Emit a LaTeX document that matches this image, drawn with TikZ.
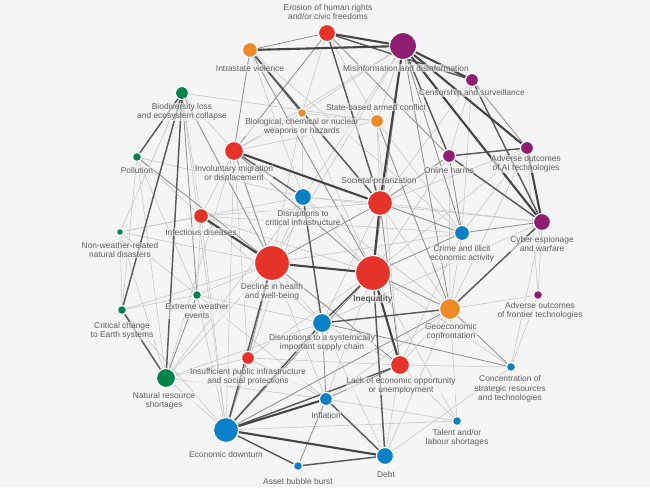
\documentclass[tikz,border=0pt]{standalone}
\usepackage{fontspec}
\setmainfont{Liberation Sans}
\definecolor{bgc}{HTML}{F5F5F5}
\definecolor{cred}{HTML}{E5332A}
\definecolor{corange}{HTML}{EE8A26}
\definecolor{cpurple}{HTML}{8F1D72}
\definecolor{cblue}{HTML}{0B7FC7}
\definecolor{cgreen}{HTML}{00844A}
\definecolor{txt}{HTML}{5E5E5E}
\definecolor{ela}{HTML}{C6C6C6}
\definecolor{elb}{HTML}{929292}
\definecolor{elc}{HTML}{5A5A5A}
\definecolor{eld}{HTML}{454545}
\pgfdeclarelayer{back}
\pgfdeclarelayer{edges}
\pgfsetlayers{back,edges,main}
\tikzset{
  rk/.style={circle, draw=white, line width=1.1pt, inner sep=0pt, minimum size=#1},
  lab/.style={font=\fontsize{8.4}{9.2}\selectfont, text=txt, align=center, inner sep=0.5pt,
              fill=bgc, fill opacity=0.6, text opacity=1},
  ea/.style={draw=ela, line width=0.55pt},
  eb/.style={draw=elb, line width=0.85pt},
  ec/.style={draw=elc, line width=1.45pt},
  ed/.style={draw=eld, line width=2.1pt}
}
\begin{document}
\begin{tikzpicture}[x=1pt,y=-1pt]
\begin{pgfonlayer}{back}
\fill[bgc] (0,0) rectangle (650,487);
\end{pgfonlayer}
\useasboundingbox (0,0) rectangle (650,487);
% nodes
\node[rk=17, fill=cred] (hr) at (327,33) {};
\node[rk=27, fill=cpurple] (mis) at (403,46) {};
\node[rk=15, fill=corange] (intra) at (250,50) {};
\node[rk=13, fill=cpurple] (cens) at (472,80) {};
\node[rk=13, fill=cgreen] (bio) at (182,93) {};
\node[rk=9, fill=corange] (bcn) at (302,113) {};
\node[rk=13, fill=corange] (sba) at (377,121) {};
\node[rk=19, fill=cred] (mig) at (234,151) {};
\node[rk=9, fill=cgreen] (pol) at (137,157) {};
\node[rk=13, fill=cpurple] (onl) at (449,156) {};
\node[rk=13, fill=cpurple] (ai) at (527,148) {};
\node[rk=25, fill=cred] (soc) at (380,203) {};
\node[rk=17, fill=cblue] (dci) at (303,197) {};
\node[rk=15, fill=cred] (inf) at (201,216) {};
\node[rk=7, fill=cgreen] (nwn) at (120,232) {};
\node[rk=17, fill=cpurple] (cyb) at (542,222) {};
\node[rk=15, fill=cblue] (crm) at (462,233) {};
\node[rk=35, fill=cred] (hea) at (272,263) {};
\node[rk=35, fill=cred] (ineq) at (373,273) {};
\node[rk=9, fill=cgreen] (ext) at (197,295) {};
\node[rk=9, fill=cpurple] (fro) at (538,295) {};
\node[rk=9, fill=cgreen] (ces) at (122,310) {};
\node[rk=21, fill=corange] (geo) at (450,309) {};
\node[rk=19, fill=cblue] (sup) at (322,323) {};
\node[rk=13, fill=cred] (ipi) at (248,358) {};
\node[rk=19, fill=cred] (leo) at (400,365) {};
\node[rk=9, fill=cblue] (con) at (511,367) {};
\node[rk=19, fill=cgreen] (nrs) at (166,378) {};
\node[rk=13, fill=cblue] (infl) at (326,399) {};
\node[rk=9, fill=cblue] (tal) at (457,421) {};
\node[rk=25, fill=cblue] (ecd) at (226,430) {};
\node[rk=17, fill=cblue] (debt) at (385,456) {};
\node[rk=9, fill=cblue] (abb) at (298,466) {};
% edges
\begin{pgfonlayer}{edges}
\foreach \a/\b in {hr/bcn, hr/sba, mis/sba, mis/bcn, mis/mig, mis/dci, mis/hea, cens/onl, cens/crm, cens/soc, intra/dci, intra/crm, bio/sba, bio/inf, bio/nwn, bio/mig, bio/ecd, pol/nrs, pol/ces, pol/ext, pol/inf, pol/dci, bcn/sba, bcn/soc, bcn/ineq, bcn/hea, bcn/mig, bcn/dci, sba/mig, sba/crm, sba/leo, sba/soc, mig/inf, mig/ipi, mig/nrs, mig/ecd, mig/crm, onl/ineq, onl/geo, ai/soc, ai/ineq, ai/fro, ai/crm, ai/geo, soc/geo, soc/dci, soc/cyb, soc/sup, soc/inf, dci/hea, dci/ineq, dci/ecd, dci/cyb, dci/geo, dci/nrs, inf/ecd, inf/ineq, inf/ext, inf/sup, inf/crm, inf/nwn, nwn/ext, nwn/ces, nwn/nrs, nwn/hea, nwn/dci, cyb/fro, cyb/con, cyb/sup, crm/hea, crm/geo, crm/leo, hea/nrs, hea/sup, hea/ext, hea/ces, hea/infl, ineq/ipi, ineq/infl, ineq/con, ineq/tal, ext/ces, ext/ecd, ext/infl, ext/sup, fro/geo, fro/con, ces/ecd, geo/leo, geo/debt, geo/infl, geo/tal, sup/leo, sup/nrs, sup/debt, ipi/nrs, ipi/leo, ipi/infl, leo/debt, leo/tal, nrs/ecd, nrs/infl, infl/tal, ecd/tal, con/leo, con/debt}
  \draw[ea] (\a) -- (\b);
\foreach \a/\b in {hr/intra, hr/mig, mis/crm, mis/ineq, mis/geo, cens/ai, intra/mig, intra/ineq, bio/ext, bio/hea, pol/hea, sba/geo, mig/hea, mig/ineq, onl/crm, onl/soc, soc/hea, soc/crm, soc/leo, cyb/crm, crm/ineq, hea/ipi, hea/leo, ineq/geo, ineq/ecd, ext/nrs, geo/con, geo/ecd, sup/infl, sup/con, ipi/ecd, leo/infl, infl/abb, hr/onl}
  \draw[eb] (\a) -- (\b);
\foreach \a/\b in {hr/soc, hr/cens, mis/onl, intra/bcn, intra/soc, bio/pol, bio/ces, bio/nrs, mig/dci, dci/sup, onl/ai, onl/cyb, ineq/debt, cyb/geo, geo/sup, ces/nrs, sup/ecd, leo/ecd, infl/debt, ecd/abb, debt/abb, cens/cyb, sup/ineq, hea/ecd}
  \draw[ec] (\a) -- (\b);
\foreach \a/\b in {hr/mis, mis/intra, mis/soc, mis/cens, mis/ai, mis/cyb, soc/ineq, hea/ineq, ineq/leo, ecd/debt, infl/ecd, mig/soc, inf/hea, ai/cyb}
  \draw[ed] (\a) -- (\b);
\end{pgfonlayer}
% labels
\node[lab] (lhr) at (328,12) {Erosion of human rights\\and/or civic freedoms};
\node[lab] (lmis) at (406,68) {Misinformation and disinformation};
\node[lab] (lintra) at (250,68) {Intrastate violence};
\node[lab] (lcens) at (472,93) {Censorship and surveillance};
\node[lab] (lbio) at (182,112) {Biodiversity loss\\and ecosystem collapse};
\node[lab] (lbcn) at (302,127) {Biological, chemical or nuclear\\weapons or hazards};
\node[lab] (lsba) at (376,107) {State-based armed conflict};
\node[lab] (lmig) at (234,174) {Involuntary migration\\or displacement};
\node[lab] (lpol) at (137,170) {Pollution};
\node[lab] (lonl) at (449,170) {Online harms};
\node[lab] (lai) at (526,164) {Adverse outcomes\\of AI technologies};
\node[lab] (lsoc) at (379,181) {Societal polarization};
\node[lab] (ldci) at (303,218) {Disruptions to\\critical infrastructure};
\node[lab] (linf) at (201,232) {Infectious diseases};
\node[lab] (lnwn) at (120,250) {Non-weather-related\\natural disasters};
\node[lab] (lcyb) at (542,244) {Cyber espionage\\and warfare};
\node[lab] (lcrm) at (462,254) {Crime and illicit\\economic activity};
\node[lab] (lhea) at (272,292) {Decline in health\\and well-being};
\node[lab, font=\fontsize{8.4}{9.2}\selectfont\bfseries] (lineq) at (373,299) {Inequality};
\node[lab] (lext) at (197,311) {Extreme weather\\events};
\node[lab] (lfro) at (540,311) {Adverse outcomes\\of frontier technologies};
\node[lab] (lces) at (122,331) {Critical change\\to Earth systems};
\node[lab] (lgeo) at (451,331) {Geoeconomic\\confrontation};
\node[lab] (lsup) at (322,343) {Disruptions to a systemically\\important supply chain};
\node[lab] (lipi) at (248,377) {Insufficient public infrastructure\\and social protections};
\node[lab] (lleo) at (401,386) {Lack of economic opportunity\\or unemployment};
\node[lab] (lcon) at (510,389) {Concentration of\\strategic resources\\and technologies};
\node[lab] (lnrs) at (164,401) {Natural resource\\shortages};
\node[lab] (linfl) at (326,415) {Inflation};
\node[lab] (ltal) at (457,438) {Talent and/or\\labour shortages};
\node[lab] (lecd) at (226,454) {Economic downturn};
\node[lab] (ldebt) at (386,474) {Debt};
\node[lab] (labb) at (298,481) {Asset bubble burst};
\end{tikzpicture}
\end{document}
